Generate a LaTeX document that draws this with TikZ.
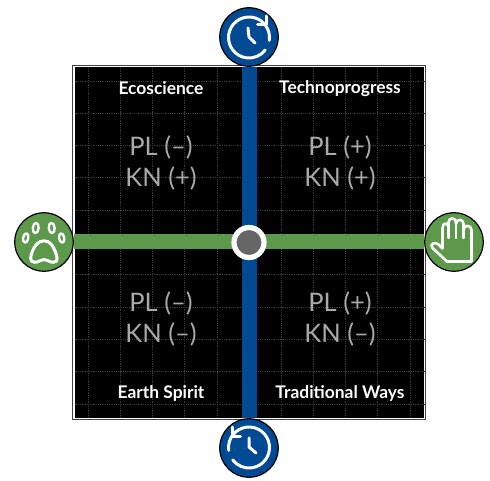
\documentclass[tikz,border=0pt]{standalone}
\usepackage{fontspec}
\setmainfont{Lato}
\usetikzlibrary{backgrounds}
\definecolor{axisblue}{HTML}{004A93}
\definecolor{axisgreen}{HTML}{5C994A}
\definecolor{gridgray}{HTML}{3A3A3A}
\definecolor{hubgray}{HTML}{666666}
\definecolor{txtgray}{HTML}{A9A9A9}
\tikzset{
  pole/.style={circle,draw=black,line width=1.2pt,minimum size=58.5pt,inner sep=0pt},
  title/.style={text=white,font=\fontsize{17.4}{19}\bfseries\selectfont,inner sep=0pt,anchor=center},
  coord/.style={text=txtgray,font=\fontsize{25.5}{28}\selectfont,inner sep=0pt,anchor=center},
  icon/.style={draw=white,line width=3pt,line cap=round,line join=round},
  thinicon/.style={draw=white,line width=2.4pt,line cap=round,line join=round},
  axisline/.style={line width=15pt},
  gridline/.style={draw=gridgray,line width=.8pt,densely dotted}
}
\begin{document}
\begin{tikzpicture}[x=1pt,y=-1pt]
\useasboundingbox (0,0) rectangle (490,481);
\node[pole,fill=axisblue] (top) at (249,37) {};
\node[pole,fill=axisblue] (bottom) at (249,448) {};
\node[pole,fill=axisgreen] (left) at (44,242) {};
\node[pole,fill=axisgreen] (right) at (454,242) {};
\node[circle,draw=white,fill=hubgray,line width=5.2pt,minimum size=30pt,inner sep=0pt] (hub) at (249,242.5) {};
\begin{scope}[on background layer]
  \fill[white] (0,0) rectangle (490,481);
  \draw[draw=black!75,line width=1pt] (72.7,65.8) rectangle (425.6,419);
  \fill[black] (74.5,67.5) rectangle (424.2,417.8);
  \foreach \x in {88,120.2,152.5,184.7,216.9,249,281.2,313.4,345.6,377.8,410}
    \draw[gridline] (\x,67.5) -- (\x,417.8);
  \foreach \y in {81,113.3,145.6,177.9,210.2,242.5,274.8,307.1,339.4,371.7,404}
    \draw[gridline] (74.5,\y) -- (424.2,\y);
  \draw[axisblue,axisline] (top) -- (bottom);
  \draw[axisgreen,axisline] (left) -- (right);
\end{scope}
% quadrant text
\node[title] (t1) at (161,88.5) {Ecoscience};
\node[title] (t2) at (340,88.5) {Technoprogress};
\node[title] (t3) at (161,393.5) {Earth Spirit};
\node[title] (t4) at (340,393.5) {Traditional Ways};
\node[coord] (a1) at (161,147) {PL (–)};
\node[coord] (b1) at (161,178) {KN (+)};
\node[coord] (a2) at (340,147) {PL (+)};
\node[coord] (b2) at (340,178) {KN (+)};
\node[coord] (a3) at (161,303) {PL (–)};
\node[coord] (b3) at (161,334) {KN (–)};
\node[coord] (a4) at (340,303) {PL (+)};
\node[coord] (b4) at (340,334) {KN (–)};
% forward clock
\draw[icon] (249,37.5) ++(8:20.5) arc[start angle=8,end angle=-323,radius=20.5];
\draw[icon] (266,16) -- (266,25) -- (257.5,25);
\draw[icon] (248,28) -- (249,37) -- (255,43);
% backward clock
\draw[icon] (249,447.5) ++(172:20.5) arc[start angle=172,end angle=503,radius=20.5];
\draw[icon] (232,427) -- (232,436) -- (240.5,436);
\draw[icon] (249,438) -- (249,447) -- (256,453);
% paw
\draw[thinicon,rotate around={-10:(25.7,238)}] (25.7,238) ellipse[x radius=2.6,y radius=4.7];
\draw[thinicon,rotate around={-6:(35.7,228)}] (35.7,228) ellipse[x radius=2.9,y radius=5.2];
\draw[thinicon,rotate around={6:(51.7,228)}] (51.7,228) ellipse[x radius=2.9,y radius=5.2];
\draw[thinicon,rotate around={10:(61.7,238)}] (61.7,238) ellipse[x radius=2.6,y radius=4.7];
\draw[icon] (44,240.8) .. controls (50,240.8) and (53,246) .. (55,251)
  .. controls (57,256) and (59,262) .. (53.5,262.3)
  .. controls (49.5,262.5) and (47.5,259.5) .. (44,259.5)
  .. controls (40.5,259.5) and (38.5,262.5) .. (34.5,262.3)
  .. controls (29,262) and (30.5,256) .. (32.5,251)
  .. controls (34.5,246) and (38,240.8) .. (44,240.8) -- cycle;
% hand
\draw[thinicon,line width=2.6pt] (471.5,261.5) -- (447,261.5) -- (432.5,248)
  .. controls (431,246) and (431,244.5) .. (433,243.5)
  .. controls (435,242.5) and (437,243) .. (438.5,244.5) -- (442.5,248.5)
  -- (442.5,228) .. controls (442.5,222) and (448.5,222) .. (448.5,228)
  -- (448.5,222.5) .. controls (448.5,217) and (456,217) .. (456,222.5)
  -- (456,224) .. controls (456,218.5) and (463.5,218.5) .. (463.5,224)
  -- (463.5,230) .. controls (463.5,224.5) and (471.5,224.5) .. (471.5,230) -- cycle;
\draw[thinicon,line width=2.4pt] (448.5,228) -- (448.5,238);
\draw[thinicon,line width=2.4pt] (456,224) -- (456,238);
\draw[thinicon,line width=2.4pt] (463.5,230) -- (463.5,238);
\end{tikzpicture}
\end{document}
